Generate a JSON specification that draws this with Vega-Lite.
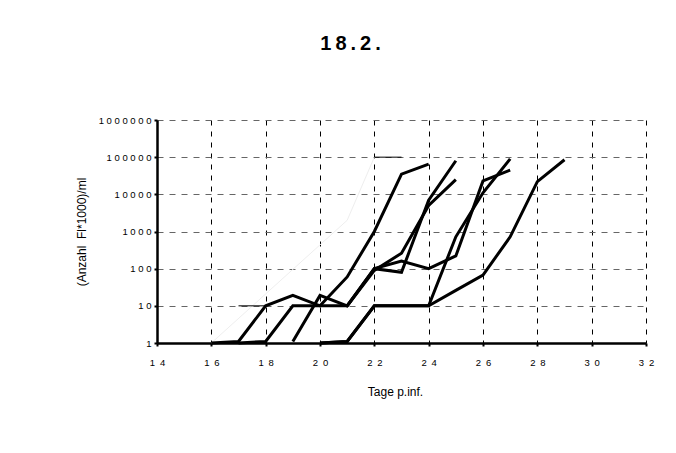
{
  "$schema": "https://vega.github.io/schema/vega-lite/v6.json",
  "width": 489,
  "height": 223,
  "autosize": "none",
  "padding": {"left": 157, "top": 120, "right": 30, "bottom": 110},
  "background": "white",
  "config": {
    "view": {"stroke": null},
    "font": "Liberation Sans"
  },
  "title": {
    "text": "1\u20098\u2009.\u20092\u2009.",
    "fontSize": 20,
    "fontWeight": "bold",
    "font": "Liberation Sans",
    "color": "black",
    "anchor": "middle",
    "dx": -51,
    "offset": 61
  },
  "data": {
    "values": [
      {"s": "F", "day": 16, "v": 1},
      {"s": "F", "day": 21, "v": 2000},
      {"s": "F", "day": 22, "v": 100000},
      {"s": "T1", "day": 17, "v": 10},
      {"s": "T1", "day": 18, "v": 10},
      {"s": "T2", "day": 22, "v": 100000},
      {"s": "T2", "day": 23, "v": 100000},

      {"s": "L1", "day": 16, "v": 1},
      {"s": "L1", "day": 17, "v": 1.1},
      {"s": "L1", "day": 18, "v": 10},
      {"s": "L1", "day": 19, "v": 19},
      {"s": "L1", "day": 20, "v": 10},
      {"s": "L1", "day": 21, "v": 10},
      {"s": "L1", "day": 22, "v": 100},
      {"s": "L1", "day": 23, "v": 160},
      {"s": "L1", "day": 24, "v": 100},
      {"s": "L1", "day": 25, "v": 220},
      {"s": "L1", "day": 26, "v": 23000},
      {"s": "L1", "day": 27, "v": 45000},

      {"s": "L2", "day": 17, "v": 1},
      {"s": "L2", "day": 18, "v": 1.1},
      {"s": "L2", "day": 19, "v": 10},
      {"s": "L2", "day": 20, "v": 10},
      {"s": "L2", "day": 21, "v": 60},
      {"s": "L2", "day": 22, "v": 1000},
      {"s": "L2", "day": 23, "v": 35000},
      {"s": "L2", "day": 24, "v": 65000},

      {"s": "L3", "day": 19, "v": 1.1},
      {"s": "L3", "day": 20, "v": 19},
      {"s": "L3", "day": 21, "v": 10},
      {"s": "L3", "day": 22, "v": 90},
      {"s": "L3", "day": 23, "v": 260},
      {"s": "L3", "day": 24, "v": 5000},
      {"s": "L3", "day": 25, "v": 25000},

      {"s": "L6", "day": 21, "v": 10},
      {"s": "L6", "day": 22, "v": 100},
      {"s": "L6", "day": 23, "v": 80},
      {"s": "L6", "day": 24, "v": 7000},
      {"s": "L6", "day": 25, "v": 80000},

      {"s": "L4", "day": 20, "v": 1},
      {"s": "L4", "day": 21, "v": 1.1},
      {"s": "L4", "day": 22, "v": 10},
      {"s": "L4", "day": 23, "v": 10},
      {"s": "L4", "day": 24, "v": 10},
      {"s": "L4", "day": 25, "v": 720},
      {"s": "L4", "day": 26, "v": 11000},
      {"s": "L4", "day": 27, "v": 90000},

      {"s": "L5", "day": 20, "v": 1},
      {"s": "L5", "day": 21, "v": 1.1},
      {"s": "L5", "day": 22, "v": 10},
      {"s": "L5", "day": 23, "v": 10},
      {"s": "L5", "day": 24, "v": 10},
      {"s": "L5", "day": 25, "v": 26},
      {"s": "L5", "day": 26, "v": 67},
      {"s": "L5", "day": 27, "v": 720},
      {"s": "L5", "day": 28, "v": 22000},
      {"s": "L5", "day": 29, "v": 85000}
    ]
  },
  "encoding": {
    "x": {
      "field": "day",
      "type": "quantitative",
      "scale": {"domain": [14, 32], "nice": false, "zero": false},
      "axis": {
        "values": [14, 16, 18, 20, 22, 24, 26, 28, 30, 32],
        "title": "Tage p.inf.",
        "titleFont": "Liberation Sans",
        "titleFontSize": 12,
        "titleFontWeight": "normal",
        "titleColor": "black",
        "titlePadding": 20,
        "titleX": 238,
        "labelExpr": "join(split(datum.label, ''), '\u2002')",
        "labelFlush": false,
        "labelFont": "Liberation Sans",
        "labelFontSize": 9.5,
        "labelColor": "black",
        "labelPadding": 11,
        "domainColor": "black",
        "domainWidth": 2.5,
        "tickColor": "black",
        "tickWidth": 2,
        "tickSize": 3,
        "grid": true,
        "gridColor": "black",
        "gridWidth": 1,
        "gridDash": [5, 6]
      }
    },
    "y": {
      "field": "v",
      "type": "quantitative",
      "scale": {"type": "log", "domain": [1, 1000000], "nice": false},
      "axis": {
        "values": [1, 10, 100, 1000, 10000, 100000, 1000000],
        "format": "d",
        "title": "(Anzahl\u00a0\u00a0Fl*1000)/ml",
        "titleFont": "Liberation Sans",
        "titleFontSize": 12,
        "titleFontWeight": "normal",
        "titleColor": "black",
        "titlePadding": 10,
        "labelExpr": "join(split(datum.label, ''), ' ')",
        "labelFont": "Liberation Sans",
        "labelFontSize": 9.5,
        "labelColor": "black",
        "labelPadding": 3,
        "domainColor": "black",
        "domainWidth": 2.5,
        "tickColor": "black",
        "tickWidth": 2,
        "tickSize": 3,
        "grid": true,
        "gridColor": "#666666",
        "gridWidth": 1,
        "gridDash": [6, 6]
      }
    },
    "detail": {"field": "s"},
    "order": {"field": "day"}
  },
  "layer": [
    {
      "transform": [{"filter": "datum.s == 'F'"}],
      "mark": {"type": "line", "color": "#eeeeee", "strokeWidth": 1}
    },
    {
      "transform": [{"filter": "datum.s == 'T1' || datum.s == 'T2'"}],
      "mark": {"type": "line", "color": "black", "strokeWidth": 1}
    },
    {
      "transform": [{"filter": "indexof(datum.s, 'L') == 0"}],
      "mark": {"type": "line", "color": "black", "strokeWidth": 3, "strokeJoin": "miter"}
    }
  ]
}
